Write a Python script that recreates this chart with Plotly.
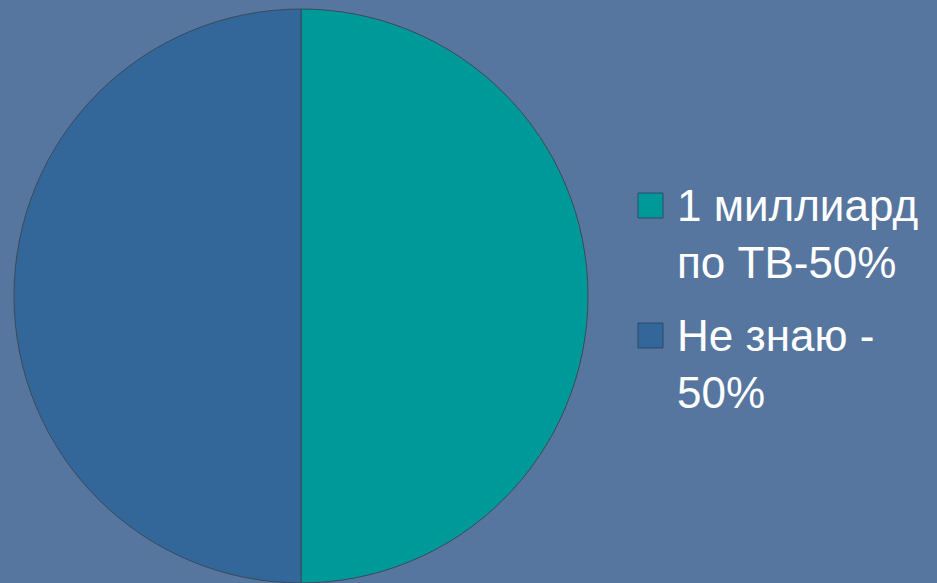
import plotly.graph_objects as go

labels = ["1 миллиард<br>по ТВ-50%", "Не знаю -<br>50%"]
values = [50, 50]
colors = ["#009999", "#336699"]

W, H = 937, 583


def px(x, y):
    # pixel position -> paper coords
    return x / W, 1 - y / H


fig = go.Figure()
fig.add_trace(go.Pie(
    labels=labels,
    values=values,
    sort=False,
    direction="clockwise",
    rotation=0,
    textinfo="none",
    hoverinfo="label+percent",
    marker=dict(colors=colors, line=dict(color="#3a4a5a", width=1)),
    domain=dict(x=[9.5 / W, 592.5 / W], y=[0, 574 / H]),
    showlegend=False,
))

# legend drawn by hand so the squares line up with the first text line
shapes = []
annotations = []
item_tops = [179, 309]
for lab, col, top in zip(labels, colors, item_tops):
    x0, y0 = px(638, top + 14)
    x1, y1 = px(663, top + 39)
    shapes.append(dict(type="rect", xref="paper", yref="paper",
                       x0=x0, y0=y0, x1=x1, y1=y1,
                       fillcolor=col, line=dict(color="#2a4a6a", width=1)))
    ax, ay = px(675, top)
    annotations.append(dict(text=lab, xref="paper", yref="paper", x=ax, y=ay,
                            xanchor="left", yanchor="top", align="left",
                            showarrow=False,
                            font=dict(family="Liberation Sans", size=44, color="white")))

fig.update_layout(
    width=W, height=H,
    margin=dict(l=0, r=0, t=0, b=0),
    paper_bgcolor="#56769f",
    plot_bgcolor="#56769f",
    shapes=shapes,
    annotations=annotations,
)

fig.write_html("out.html", config={"displayModeBar": False},
               post_script="document.body.style.margin='0px';")
